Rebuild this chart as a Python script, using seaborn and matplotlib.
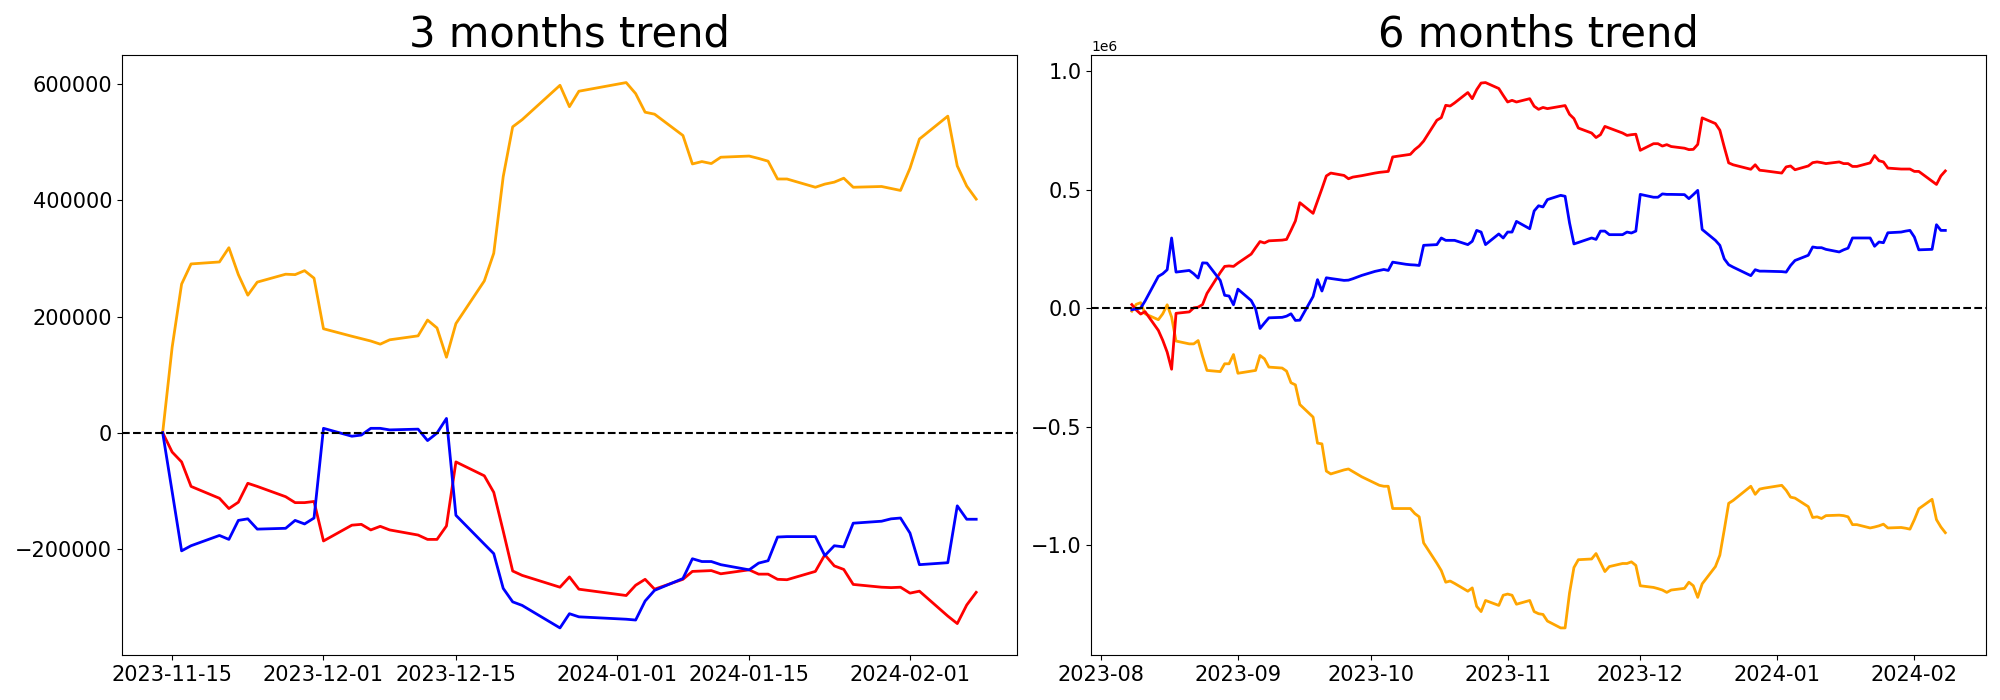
import numpy as np
import pandas as pd
import matplotlib
matplotlib.use("Agg")
import matplotlib.pyplot as plt
import matplotlib.dates as mdates
import seaborn as sns

# trading days (weekdays) with the gaps seen in the chart
gaps_3m = ["2023-12-25", "2023-12-29", "2024-01-01"]
gaps_6m = ["2023-12-25", "2024-01-01"]
dates_3m = pd.bdate_range("2023-11-14", "2024-02-08").drop(pd.to_datetime(gaps_3m))
dates_6m = pd.bdate_range("2023-08-08", "2024-02-08").drop(pd.to_datetime(gaps_6m))

# 3 months trend
orange_3m = [0, 146900, 255800, 290500, 293900, 318400, 272100, 236700, 259200, 272800, 272100, 278900, 266000,
             178900, 166000, 161900, 157800, 152400, 159900, 166700, 193900, 180300, 129900, 187800, 261200,
             308900, 440800, 526500, 538800, 598000, 561200, 587800,
             602700, 583700, 551700, 548300, 511600, 462600, 466700, 463300, 474200, 476200, 472100, 467400,
             436700, 436700, 422500, 427900, 431300, 438100, 422500, 423800, 420400, 417000,
             455100, 505500, 544900, 459200, 424500, 402100]
red_3m = [0, -33300, -50300, -92500, -112900, -130600, -119700, -87100, -92500, -110200, -120400, -120400, -118400,
          -186400, -159200, -157800, -167400, -161200, -167400, -176200, -183700, -183700, -160600, -50300, -74200,
          -102700, -169400, -238100, -245600, -266000, -248300, -269400,
          -280300, -262600, -252400, -269400, -252400, -238800, -238100, -237400, -242900, -236100, -243500, -243500,
          -252400, -253100, -238800, -210200, -229300, -235400, -261200, -266000, -266700, -266000,
          -276200, -272800, -315700, -328600, -296600, -274800]
blue_3m = [0, -101400, -203400, -194600, -176900, -183700, -151000, -148300, -166000, -164600, -151000, -157100, -146900,
           7500, -6100, -4100, 7500, 7500, 4800, 6100, -13600, -700, 24500, -142200, -191800,
           -208200, -268000, -291200, -297300, -336100, -311600, -317000,
           -321100, -322500, -289800, -271400, -251000, -217000, -221800, -221800, -227200, -236100, -224500, -220400,
           -179600, -178900, -178900, -211600, -194600, -196600, -155800, -152400, -148300, -146900,
           -172800, -227200, -223800, -125900, -149000, -149000]

# 6 months trend (one line per month)
orange_6m = [-13000, 16000, 23000, -24000, -49000, -24000, 14000, -38000, -139000, -151000, -151000, -137000, -203000, -263000, -268000, -235000, -235000, -196000,
             -275000, -266000, -263000, -200000, -214000, -249000, -253000, -266000, -315000, -324000, -407000, -460000, -570000, -573000, -688000, -700000, -683000, -679000, -690000, -701000, -712000,
             -739000, -748000, -752000, -752000, -846000, -846000, -846000, -867000, -881000, -991000, -1077000, -1108000, -1157000, -1152000, -1162000, -1195000, -1181000, -1259000, -1281000, -1234000, -1255000, -1212000,
             -1207000, -1212000, -1250000, -1234000, -1281000, -1290000, -1293000, -1321000, -1350000, -1350000, -1203000, -1095000, -1062000, -1059000, -1036000, -1074000, -1112000, -1091000, -1078000, -1078000, -1071000, -1086000,
             -1172000, -1179000, -1184000, -1190000, -1200000, -1190000, -1183000, -1157000, -1172000, -1221000, -1164000, -1091000, -1043000, -936000, -824000, -812000, -752000, -786000, -764000, -760000,
             -748000, -769000, -798000, -802000, -838000, -884000, -881000, -888000, -876000, -874000, -876000, -881000, -914000, -914000, -928000, -924000, -919000, -912000, -928000, -926000, -929000, -933000,
             -893000, -847000, -807000, -893000, -924000, -948000]
red_6m = [15000, -8000, -25000, -15000, -94000, -136000, -186000, -258000, -22000, -16000, 1000, 4000, 15000, 62000, 150000, 176000, 178000, 176000,
          190000, 228000, 255000, 281000, 275000, 284000, 287000, 290000, 328000, 368000, 445000, 400000, 452000, 504000, 558000, 570000, 560000, 546000, 553000, 556000, 559000,
          570000, 573000, 575000, 577000, 638000, 646000, 649000, 669000, 684000, 705000, 793000, 804000, 856000, 853000, 866000, 910000, 884000, 922000, 950000, 952000, 927000, 898000,
          870000, 877000, 870000, 884000, 852000, 839000, 847000, 842000, 852000, 855000, 818000, 800000, 760000, 739000, 720000, 732000, 767000, 760000, 739000, 729000, 732000, 734000,
          666000, 694000, 694000, 684000, 690000, 682000, 675000, 669000, 670000, 691000, 803000, 779000, 751000, 680000, 613000, 605000, 586000, 605000, 582000, 580000,
          570000, 596000, 600000, 584000, 600000, 614000, 617000, 614000, 610000, 617000, 610000, 610000, 598000, 598000, 613000, 644000, 622000, 617000, 591000, 587000, 587000, 587000,
          577000, 577000, 536000, 522000, 558000, 579000]
blue_6m = [-7000, -3000, 0, 30000, 134000, 145000, 162000, 296000, 152000, 159000, 145000, 127000, 191000, 190000, 117000, 54000, 51000, 14000,
           80000, 32000, -3000, -86000, -63000, -41000, -39000, -34000, -24000, -52000, -51000, 49000, 120000, 72000, 128000, 125000, 117000, 118000, 124000, 131000, 138000,
           155000, 159000, 163000, 159000, 194000, 185000, 183000, 182000, 180000, 265000, 268000, 296000, 286000, 286000, 286000, 268000, 282000, 328000, 321000, 268000, 313000, 296000,
           321000, 321000, 366000, 335000, 410000, 432000, 427000, 458000, 476000, 472000, 360000, 271000, 277000, 296000, 290000, 325000, 325000, 310000, 310000, 321000, 317000, 325000,
           480000, 468000, 468000, 482000, 480000, 480000, 479000, 462000, 479000, 497000, 332000, 286000, 265000, 208000, 183000, 173000, 137000, 162000, 156000, 156000,
           154000, 152000, 180000, 201000, 223000, 258000, 255000, 255000, 248000, 237000, 246000, 253000, 296000, 296000, 296000, 261000, 279000, 276000, 318000, 321000, 325000, 328000,
           300000, 246000, 248000, 352000, 328000, 328000]

fig, axes = plt.subplots(1, 2, figsize=(20, 7), dpi=100)
plt.subplots_adjust(left=0.061, right=0.993, bottom=0.064, top=0.921, wspace=0.083)

panels = [
    (axes[0], dates_3m, orange_3m, red_3m, blue_3m, "3 months trend"),
    (axes[1], dates_6m, orange_6m, red_6m, blue_6m, "6 months trend"),
]
for ax, d, o, r, b, title in panels:
    sns.lineplot(x=d, y=o, color="orange", linewidth=2, ax=ax)
    sns.lineplot(x=d, y=r, color="red", linewidth=2, ax=ax)
    sns.lineplot(x=d, y=b, color="blue", linewidth=2, ax=ax)
    ax.axhline(0, color="black", linestyle="--", linewidth=1.5)
    ax.set_title(title, fontsize=30)
    ax.set_xlabel("")
    ax.set_ylabel("")
    ax.tick_params(labelsize=15)

axes[0].xaxis.set_major_locator(mdates.DayLocator(bymonthday=[1, 15]))
axes[0].xaxis.set_major_formatter(mdates.DateFormatter("%Y-%m-%d"))
axes[1].xaxis.set_major_locator(mdates.MonthLocator())
axes[1].xaxis.set_major_formatter(mdates.DateFormatter("%Y-%m"))

plt.savefig("out.png")
